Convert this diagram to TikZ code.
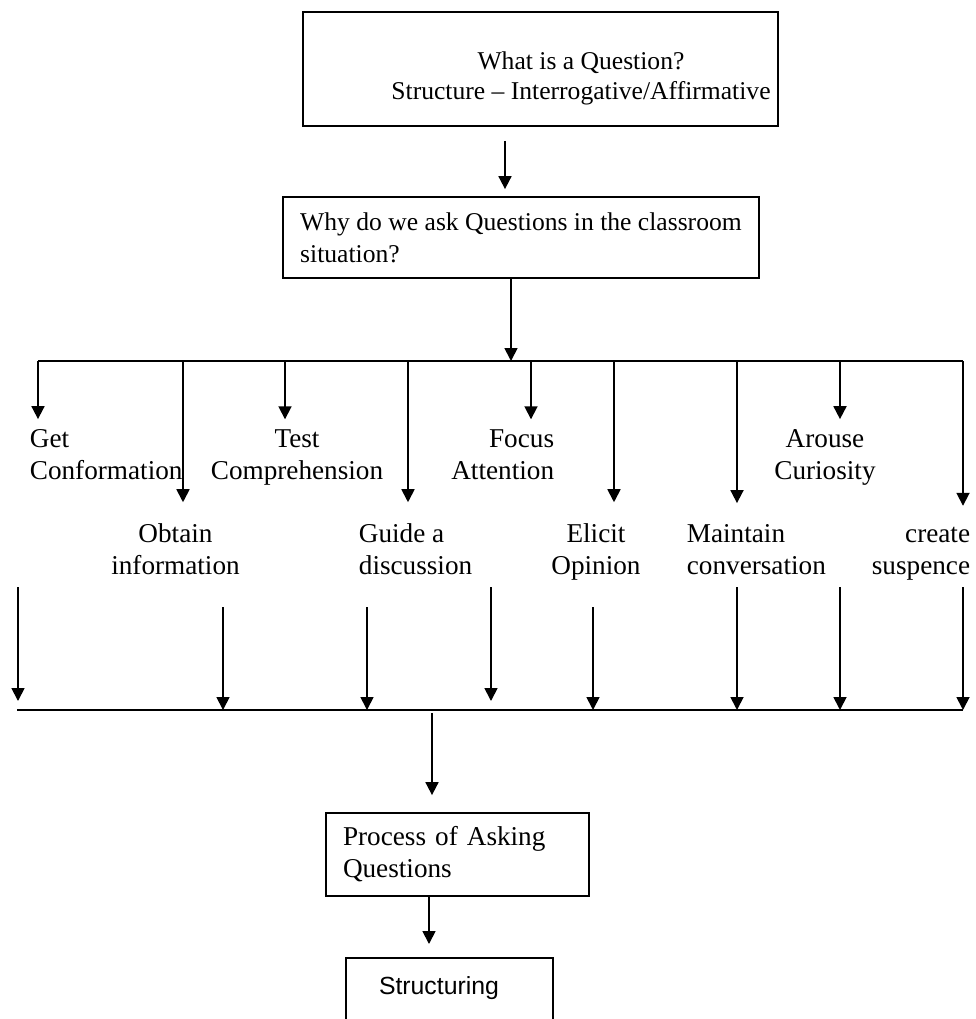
\documentclass[tikz,border=0pt]{standalone}
\usepackage{fontspec}
\setmainfont{Liberation Serif}
\newfontfamily\structfont{Liberation Sans}
\usepackage{tikz}
\usetikzlibrary{arrows.meta,calc,positioning}
\tikzstyle{int}=[draw,line width=0.9pt,inner sep=0pt]
\tikzstyle{lbla}=[inner xsep=0pt,inner ysep=4.5pt]
\tikzstyle{lblb}=[inner xsep=0pt,inner ysep=10pt]

\begin{document}
\begin{tikzpicture}[
            x=0.5pt,y=-0.5pt,
            >={Triangle[length=6.5pt,width=6.5pt]},
            line width=0.9pt,
            font=\fontsize{13.6}{16}\selectfont
        ]
        \useasboundingbox (0,0) rectangle (976,1019);
        \clip (0,0) rectangle (976,1019);
        \node [int,minimum width=237.5pt,minimum height=57pt,
            label={[align=center,inner sep=0pt,xshift=20.25pt,yshift=-4.5pt,font=\fontsize{12.8}{15}\selectfont]center:What is a Question?\\Structure – Interrogative/Affirmative}] (what) at (540.5,69) {};
        \node [int,align=left,minimum width=238pt,minimum height=40.5pt,font=\fontsize{12.8}{16}\selectfont] (why) at (521,237.5) {Why do we ask Questions in the classroom\\situation?};
        \node [int,text width=114.5pt,inner xsep=8.5pt,align=left,minimum width=131.5pt,minimum height=41.5pt] (proc) at (457.5,854.5) {Process of Asking\\Questions};
        \node [int,anchor=north,text width=70.5pt,inner xsep=16.5pt,inner ysep=9.5pt,text depth=40pt,align=left,font=\structfont\fontsize{12.4}{14}\selectfont] (struct) at (449.5,957) {Structuring};
        \node [lbla,anchor=base west,align=left]   (get)      at (29,479)    {Get\\Conformation};
        \node [lbla,anchor=base,align=center]      (test)     at (297,479)   {Test\\Comprehension};
        \node [lbla,anchor=base east,align=right]  (focus)    at (555,479)   {Focus\\Attention};
        \node [lbla,anchor=base,align=center]      (arouse)   at (825,479)   {Arouse\\Curiosity};
        \node [lblb,anchor=base,align=center]      (obtain)   at (175.5,574) {Obtain\\information};
        \node [lblb,anchor=base west,align=left]   (guide)    at (358,574)   {Guide a\\discussion};
        \node [lblb,anchor=base,align=center]      (elicit)   at (596,574)   {Elicit\\Opinion};
        \node [lblb,anchor=base west,align=left]   (maintain) at (686,574)   {Maintain\\conversation};
        \node [lblb,anchor=base east,align=right]  (create)   at (971,574)   {create\\suspence};
        \coordinate (a1) at (505,0);
        \coordinate (a2) at (511,0);
        \coordinate (busL) at (38,361);
        \coordinate (busR) at (963,361);
        \coordinate (baseL) at (17,710);
        \coordinate (baseR) at (963,710);
        \coordinate (d1) at (432,713);
        \coordinate (d2) at (429,0);
        \draw[->,shorten <=7pt,shorten >=3.5pt] (a1 |- what.south) -- (a1 |- why.north);
        \draw[->] (a2 |- why.south) -- (a2 |- busL);
        \draw (busL) -- (busR);
        \foreach \x/\n in {38/get,183/obtain,285/test,408/guide,531/focus,614/elicit,737/maintain,840/arouse,963/create} {
            \coordinate (t) at (\x,361);
            \draw[->] (t) -- (t |- \n.north);
        }
        \foreach \x/\y/\s in {18/587/4.5pt,223/607/0pt,367/607/0pt,491/587/4.5pt,593/607/0pt,737/587/0pt,840/587/0pt,963/587/0pt} {
            \coordinate (s) at (\x,\y);
            \draw[->,shorten >=\s] (s) -- (s |- baseL);
        }
        \draw (baseL) -- (baseR);
        \draw[->,shorten >=8.5pt] (d1) -- (d1 |- proc.north);
        \draw[->,shorten >=6.5pt] (d2 |- proc.south) -- (d2 |- struct.north);
    \end{tikzpicture}
\end{document}
